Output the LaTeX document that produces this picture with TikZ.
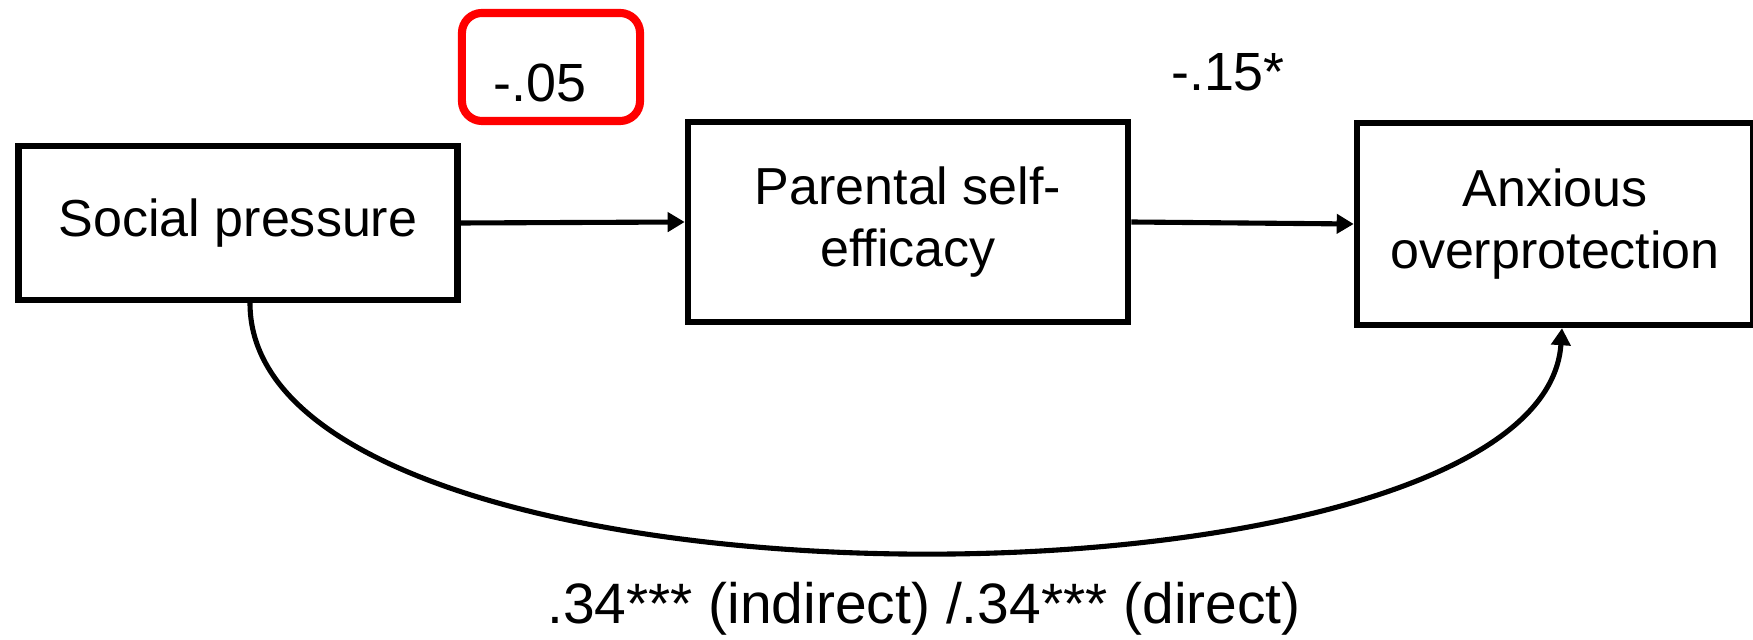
\documentclass[tikz,border=0pt]{standalone}
\usepackage{fontspec}
\setmainfont{Liberation Sans}
\usetikzlibrary{arrows.meta}

\tikzset{
	varbox/.style={draw, line width=1.8pt, align=center, inner sep=0pt, font=\fontsize{14.8}{17.5}\selectfont},
	link/.style={line width=1.45pt, -{Triangle[length=0.17cm,width=0.19cm]}},
	coef/.style={font=\fontsize{15.3}{18}\selectfont},
}

\begin{document}
\begin{tikzpicture}[x=0.01cm, y=-0.01cm]
			%%%%% START %%%%%
			\useasboundingbox (0,0) rectangle (1753,640);
			
			\node[varbox, minimum width=4.39cm, minimum height=1.54cm] (social) at (238,223) {Social pressure};
			\node[varbox, minimum width=4.4cm, minimum height=2.0cm] (efficacy) at (908,222) {Parental self-\\efficacy};
			\node[varbox, minimum width=3.96cm, minimum height=2.02cm] (anxious) at (1555,224) {Anxious\\overprotection};
			
			\draw[link] (social.east) -- (efficacy.west);
			\draw[link] (efficacy.east) -- (anxious.west);
			\draw[link] ([xshift=0.12cm]social.south) .. controls +(0,330) and +(-20,300) .. ([xshift=0.07cm]anxious.south);
			
			\node[draw=red, line width=2.3pt, rounded corners=0.2cm, minimum width=1.78cm, minimum height=1.08cm] (mark) at (551,67) {};
			\node[coef] (apath) at (540,83) {-.05};
			\node[coef] (bpath) at (1228,72) {-.15*};
			\node[coef, font=\fontsize{16.2}{19}\selectfont] (cpath) at (924,609) {.34*** (indirect) /.34*** (direct)};
			
			%%%%% END %%%%%
\end{tikzpicture}
\end{document}
